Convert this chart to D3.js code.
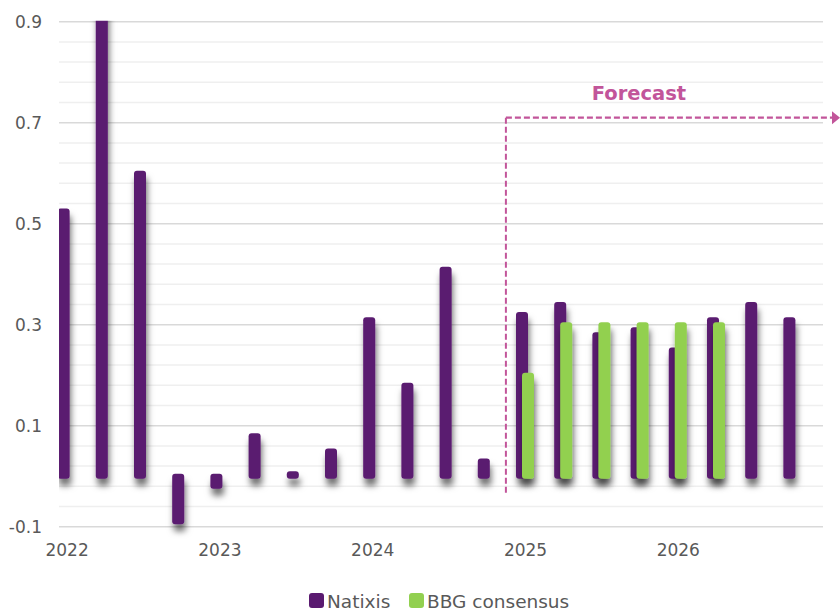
<!DOCTYPE html>
<html>
<head>
<meta charset="utf-8">
<script src="https://cdn.jsdelivr.net/npm/d3@7"></script>
<style>
  html, body { margin: 0; padding: 0; background: #fff; }
  svg { display: block; font-family: "DejaVu Sans", sans-serif; }
</style>
</head>
<body>
<svg id="chart" width="840" height="610"></svg>
<script>
// Quarterly categories, 2022 Q1 to 2026 Q4
const categories = [
  "2022Q1","2022Q2","2022Q3","2022Q4",
  "2023Q1","2023Q2","2023Q3","2023Q4",
  "2024Q1","2024Q2","2024Q3","2024Q4",
  "2025Q1","2025Q2","2025Q3","2025Q4",
  "2026Q1","2026Q2","2026Q3","2026Q4"
];
const natixis = [0.525, 0.95, 0.60, -0.09, -0.02, 0.08, 0.005, 0.05, 0.31, 0.18, 0.41, 0.03,
                 0.32, 0.34, 0.28, 0.29, 0.25, 0.31, 0.34, 0.31];
const bbgConsensus = [null, null, null, null, null, null, null, null, null, null, null, null,
                      0.20, 0.30, 0.30, 0.30, 0.30, 0.30, null, null];
const yearLabels = ["2022", "2023", "2024", "2025", "2026"];
const yTickValues = [-0.1, 0.1, 0.3, 0.5, 0.7, 0.9];
const seriesNames = ["Natixis", "BBG consensus"];
const forecastStart = "2025Q1";

const colors = { natixis: "#5a1a70", bbg: "#92d050", forecast: "#c2559a", text: "#595959" };

const svg = d3.select("#chart");
const plot = { left: 59, right: 823, top: 21.7, bottom: 526.7 };

const x = d3.scalePoint().domain(categories).range([66.6, 792.4]);
const y = d3.scaleLinear().domain([-0.1, 0.9]).range([plot.bottom, plot.top]);

const defs = svg.append("defs");
const shadow = defs.append("filter").attr("id", "barShadow")
  .attr("x", "-50%").attr("y", "-20%").attr("width", "200%").attr("height", "140%");
shadow.append("feDropShadow").attr("dx", 1.5).attr("dy", 7).attr("stdDeviation", 3.2)
  .attr("flood-color", "#000").attr("flood-opacity", 0.55);
defs.append("clipPath").attr("id", "plotClip").append("rect")
  .attr("x", plot.left).attr("y", plot.top - 1).attr("width", plot.right - plot.left)
  .attr("height", 560 - plot.top);

// Gridlines: minor every 0.04, major at labelled ticks
const minorTicks = d3.range(-0.1, 0.9001, 0.04).filter(v => !yTickValues.some(t => Math.abs(t - v) < 1e-6));
svg.append("g").selectAll("line").data(minorTicks).join("line")
  .attr("x1", plot.left).attr("x2", plot.right)
  .attr("y1", d => y(d)).attr("y2", d => y(d))
  .attr("stroke", "#efefef").attr("stroke-width", 1.5);
svg.append("g").selectAll("line").data(yTickValues).join("line")
  .attr("x1", plot.left).attr("x2", plot.right)
  .attr("y1", d => y(d)).attr("y2", d => y(d))
  .attr("stroke", "#d9d9d9").attr("stroke-width", 1.5);

// Y axis labels (plain hyphen for negatives)
const fmt = d3.format(".1f");
const yAxis = d3.axisLeft(y).tickValues(yTickValues).tickSize(0).tickPadding(0)
  .tickFormat(d => fmt(d).replace("\u2212", "-"));
const yg = svg.append("g").attr("transform", "translate(42,0)").call(yAxis);
yg.select(".domain").remove();
yg.selectAll("text").attr("fill", colors.text).attr("font-size", 17)
  .attr("font-family", "'DejaVu Sans', sans-serif");

// X axis: year labels under each first quarter
const xAxis = d3.axisBottom(x)
  .tickValues(yearLabels.map(yr => yr + "Q1"))
  .tickSize(0).tickPadding(0)
  .tickFormat(d => d.slice(0, 4));
const xg = svg.append("g").attr("transform", "translate(0,544)").call(xAxis);
xg.select(".domain").remove();
xg.selectAll("text").attr("fill", colors.text).attr("font-size", 17)
  .attr("font-family", "'DejaVu Sans', sans-serif").attr("dy", "0.71em");

// Bars: rounded ends extend slightly past value and zero
const barW = 12, cap = 2.5, offset = 3;
const y0 = y(0);
function barAttrs(sel, dx) {
  sel.attr("x", d => x(d.cat) + dx - barW / 2)
    .attr("y", d => Math.min(y(d.v), y0) - cap)
    .attr("width", barW)
    .attr("height", d => Math.abs(y(d.v) - y0) + 2 * cap)
    .attr("rx", 3).attr("ry", 3);
}
const bars = svg.append("g").attr("clip-path", "url(#plotClip)");
const natData = categories.map((c, i) => ({ cat: c, v: natixis[i] }));
const bbgData = categories.map((c, i) => ({ cat: c, v: bbgConsensus[i] })).filter(d => d.v !== null);

bars.append("g").attr("filter", "url(#barShadow)")
  .selectAll("rect").data(natData).join("rect")
  .call(barAttrs, -offset).attr("fill", colors.natixis);
bars.append("g").attr("filter", "url(#barShadow)")
  .selectAll("rect").data(bbgData).join("rect")
  .call(barAttrs, offset).attr("fill", colors.bbg);

// Forecast marker
const fi = categories.indexOf(forecastStart);
const fx = (x(categories[fi - 1]) + x(categories[fi])) / 2;
const fy = y(0.71);
const fg = svg.append("g");
fg.append("line").attr("x1", fx).attr("x2", fx).attr("y1", fy).attr("y2", 495)
  .attr("stroke", colors.forecast).attr("stroke-width", 2).attr("stroke-dasharray", "6,3");
fg.append("line").attr("x1", fx).attr("x2", 833).attr("y1", fy).attr("y2", fy)
  .attr("stroke", colors.forecast).attr("stroke-width", 2.2).attr("stroke-dasharray", "6,3");
fg.append("path").attr("d", `M832,${fy - 6.5} L840,${fy} L832,${fy + 6.5} Z`).attr("fill", colors.forecast);
fg.append("text").attr("x", 639).attr("y", 100).attr("text-anchor", "middle")
  .attr("font-size", 19.5).attr("font-weight", "bold").attr("fill", colors.forecast)
  .text("Forecast");

// Legend
const legend = svg.append("g");
const legendItems = [
  { name: seriesNames[0], color: colors.natixis, x: 309 },
  { name: seriesNames[1], color: colors.bbg, x: 409 }
];
legendItems.forEach(it => {
  legend.append("rect").attr("x", it.x).attr("y", 593).attr("width", 15).attr("height", 15)
    .attr("rx", 3).attr("fill", it.color);
  legend.append("text").attr("x", it.x + 18).attr("y", 607.5).attr("font-size", 18.5)
    .attr("fill", colors.text).text(it.name);
});
</script>
</body>
</html>
